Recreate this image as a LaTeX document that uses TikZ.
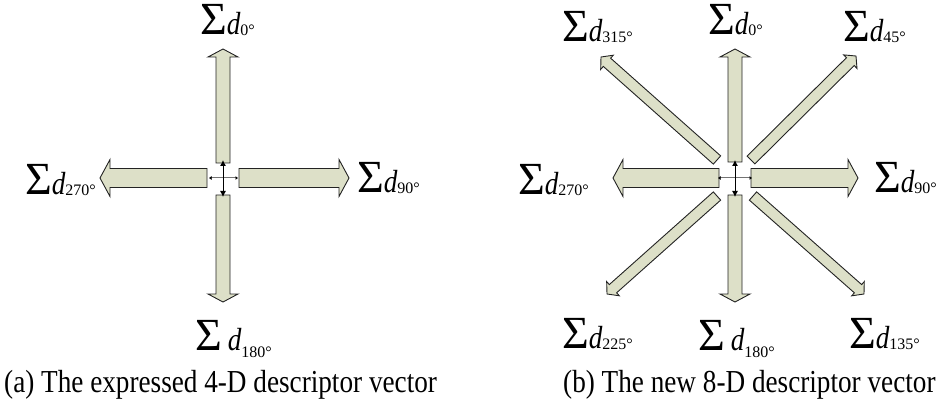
\documentclass[tikz,border=0pt]{standalone}
\usepackage{fontspec}
\setmainfont{Liberation Serif}
\usetikzlibrary{calc,arrows.meta}
\definecolor{afill}{RGB}{221,224,200}
\definecolor{aedge}{RGB}{35,35,35}
\tikzset{
  blk/.style={draw=aedge,fill=afill,line width=0.9pt,line join=miter},
  lab/.style={anchor=base west,inner sep=0pt,outer sep=0pt,text height=30pt,text depth=8pt},
  captxt/.style={anchor=base west,inner sep=0pt},
  vdbl/.style={black,line width=0.9pt,{Latex[length=6pt,width=6pt]}-{Latex[length=6pt,width=6pt]}},
  hdbl/.style={black!55,line width=1pt,{Latex[length=2.5pt,width=4pt,black]}-{Latex[length=2.5pt,width=4pt,black]}}
}
% base, tip, half shaft, half head, head length
\newcommand\blockarrow[5]{%
  \draw[blk] let \p1=($(#2)-(#1)$), \n1={atan2(\y1,\x1)}, \n2={veclen(\x1,\y1)} in
    ([shift={(#1)},rotate=\n1]0,#3) -- ([shift={(#1)},rotate=\n1]\n2-#5,#3)
    -- ([shift={(#1)},rotate=\n1]\n2-#5,#4) -- ([shift={(#1)},rotate=\n1]\n2,0)
    -- ([shift={(#1)},rotate=\n1]\n2-#5,-#4) -- ([shift={(#1)},rotate=\n1]\n2-#5,-#3)
    -- ([shift={(#1)},rotate=\n1]0,-#3) -- cycle;}
\newcommand\sumsym{{\fontsize{46}{46}\selectfont Σ}}
\newcommand\dsym{\scalebox{0.85}[1]{\fontsize{32}{32}\selectfont\itshape d}}
\newcommand\dlab[1]{\sumsym\dsym\raisebox{-1pt}{\fontsize{16}{16}\selectfont #1°}}
\newcommand\dlabb[1]{\sumsym\hspace{6pt}\dsym\raisebox{-7pt}{\fontsize{16}{16}\selectfont #1°}}
\newcommand\captext[1]{\scalebox{0.85}[1]{\fontsize{32}{32}\selectfont #1}}
\begin{document}
\begin{tikzpicture}[x=1pt,y=-1pt]
\useasboundingbox (0,0) rectangle (938,401);
% ---------- left diagram ----------
\coordinate (aU0) at (223,163); \coordinate (aU1) at (223,49);
\coordinate (aD0) at (223,195); \coordinate (aD1) at (223,302);
\coordinate (aR0) at (239,178); \coordinate (aR1) at (349,178);
\coordinate (aL0) at (207,178); \coordinate (aL1) at (100,178);
\blockarrow{aU0}{aU1}{7}{15}{8}
\blockarrow{aD0}{aD1}{7}{15}{8}
\blockarrow{aR0}{aR1}{9.5}{18.5}{10}
\blockarrow{aL0}{aL1}{9.5}{18.5}{10}
\coordinate (av1) at (223,160); \coordinate (av2) at (223,197);
\coordinate (ah1) at (209,178); \coordinate (ah2) at (238,178);
\draw[hdbl] (ah1) -- (ah2);
\draw[vdbl] (av1) -- (av2);
\node[lab] (a0) at (200,35) {\dlab{0}};
\node[lab] (a90) at (357,193) {\dlab{90}};
\node[lab] (a270) at (25,195) {\dlab{270}};
\node[lab] (a180) at (195,350) {\dlabb{180}};
\node[captxt] (capa) at (4,392) {\captext{(a) The expressed 4-D descriptor vector}};
% ---------- right diagram ----------
\coordinate (bU0) at (735,162); \coordinate (bU1) at (735,49);
\coordinate (bD0) at (735,195); \coordinate (bD1) at (735,302);
\coordinate (bR0) at (751,178); \coordinate (bR1) at (858,178);
\coordinate (bL0) at (719,178); \coordinate (bL1) at (613,178);
\coordinate (bNE0) at (751,160); \coordinate (bNE1) at (856,56);
\coordinate (bNW0) at (717,160); \coordinate (bNW1) at (601,57);
\coordinate (bSE0) at (753,196); \coordinate (bSE1) at (864,294);
\coordinate (bSW0) at (717,196); \coordinate (bSW1) at (607,294);
\blockarrow{bU0}{bU1}{7}{15}{8}
\blockarrow{bD0}{bD1}{7}{15}{8}
\blockarrow{bR0}{bR1}{9.5}{18.5}{10}
\blockarrow{bL0}{bL1}{9.5}{18.5}{10}
\blockarrow{bNE0}{bNE1}{5.5}{9.5}{8}
\blockarrow{bNW0}{bNW1}{5.5}{9.5}{8}
\blockarrow{bSE0}{bSE1}{5.5}{9.5}{8}
\blockarrow{bSW0}{bSW1}{5.5}{9.5}{8}
\coordinate (bv1) at (735,160); \coordinate (bv2) at (735,197);
\coordinate (bh1) at (718,178); \coordinate (bh2) at (752,178);
\draw[hdbl] (bh1) -- (bh2);
\draw[vdbl] (bv1) -- (bv2);
\node[lab] (b315) at (562,42) {\dlab{315}};
\node[lab] (b0) at (708,35) {\dlab{0}};
\node[lab] (b45) at (843,42) {\dlab{45}};
\node[lab] (b270) at (518,195) {\dlab{270}};
\node[lab] (b90) at (874,193) {\dlab{90}};
\node[lab] (b225) at (562,348) {\dlab{225}};
\node[lab] (b180) at (698,350) {\dlabb{180}};
\node[lab] (b135) at (849,348) {\dlab{135}};
\node[captxt] (capb) at (563,392) {\captext{(b) The new 8-D descriptor vector}};
\end{tikzpicture}
\end{document}
